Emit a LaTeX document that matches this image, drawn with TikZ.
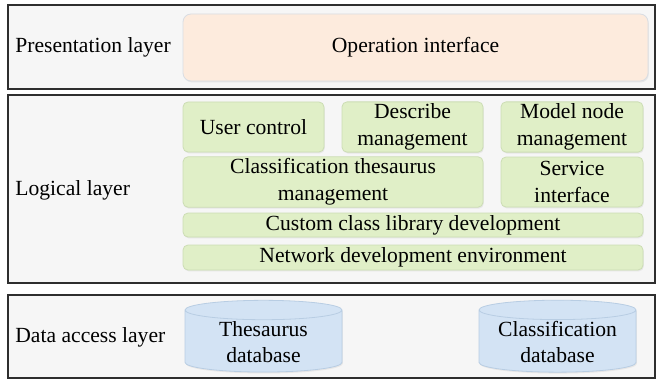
\documentclass[tikz,border=0pt]{standalone}
\usepackage{fontspec}
\setmainfont{Liberation Serif}
\usetikzlibrary{shapes.geometric,shadows}

\definecolor{framebg}{HTML}{F6F6F6}
\definecolor{framedraw}{HTML}{2E2E2E}
\definecolor{uifill}{HTML}{FDEBDD}
\definecolor{uidraw}{HTML}{D9DDE3}
\definecolor{logicfill}{HTML}{E0EFC7}
\definecolor{logicdraw}{HTML}{CCDDB4}
\definecolor{dbfill}{HTML}{D3E3F4}
\definecolor{dbdraw}{HTML}{B8CDE3}

\begin{document}
\begin{tikzpicture}[x=0.5pt,y=-0.5pt,
  font=\fontsize{10.8}{13.3}\selectfont,
  layer node/.style={draw=framedraw,fill=framebg,line width=0.7pt,inner sep=0pt},
  layer label/.style={anchor=west,inner sep=0pt},
  box shadow/.style={drop shadow={opacity=0.12,shadow xshift=0.4pt,shadow yshift=-0.7pt}},
  ui node/.style={draw=uidraw,fill=uifill,line width=0.4pt,rounded corners=4pt,box shadow},
  logic node/.style={draw=logicdraw,fill=logicfill,line width=0.4pt,rounded corners=2.5pt,
    align=center,inner sep=1pt,box shadow},
  db node/.style={cylinder,shape border rotate=90,aspect=0.17,draw=dbdraw,fill=dbfill,
    line width=0.4pt,align=center,text width=56pt,inner sep=0.5pt,
    minimum width=78.5pt,minimum height=34pt,box shadow}]

  \useasboundingbox (0,0) rectangle (656,379);

  % layers
  \node[layer node,minimum width=323.5pt,minimum height=42pt] (pres) at (331.5,47) {};
  \node[layer node,minimum width=323.5pt,minimum height=94pt] (logic) at (331.5,189) {};
  \node[layer node,minimum width=323.5pt,minimum height=41.5pt] (data) at (331.5,336.5) {};

  \node[layer label] (presl) at (15,47) {Presentation layer};
  \node[layer label] (logicl) at (15,190) {Logical layer};
  \node[layer label] (datal) at (15,337) {Data access layer};

  % presentation layer
  \node[ui node,minimum width=232.5pt,minimum height=33.5pt] (oi) at (415.5,47.5) {Operation interface};

  % logical layer
  \node[logic node,minimum width=70.5pt,minimum height=25pt] (uc) at (253.5,127) {User control};
  \node[logic node,minimum width=70.5pt,minimum height=25pt] (dm) at (412.5,127) {Describe\\management};
  \node[logic node,minimum width=71pt,minimum height=25pt] (mn) at (572,127) {Model node\\management};
  \node[logic node,minimum width=150pt,minimum height=25pt] (ct) at (333,182) {Classification thesaurus\\management};
  \node[logic node,minimum width=71pt,minimum height=25pt] (si) at (572,182) {Service\\interface};
  \node[logic node,minimum width=230pt,minimum height=12pt] (cc) at (413,225) {Custom class library development};
  \node[logic node,minimum width=230pt,minimum height=12.5pt] (nd) at (413,257.5) {Network development environment};

  % data access layer
  \node[db node] (tdb) at (263.5,342) {Thesaurus\\database};
  \node[db node] (cdb) at (557.5,342) {\makebox[56pt][c]{Classification}\\database};
\end{tikzpicture}
\end{document}
